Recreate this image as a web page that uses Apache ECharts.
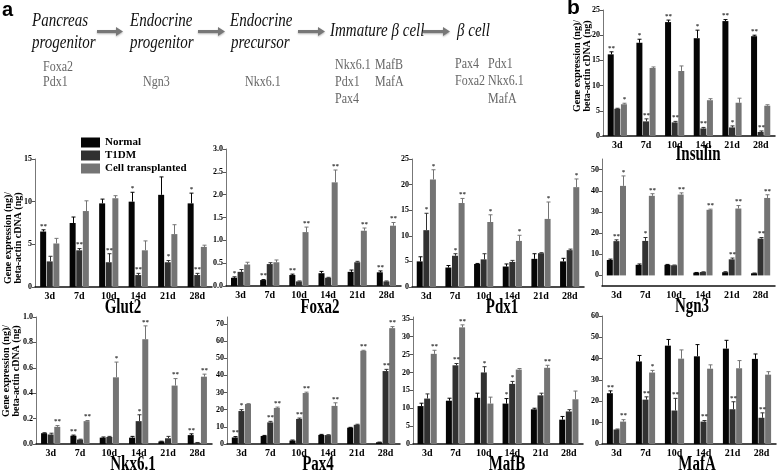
<!DOCTYPE html>
<html>
<head>
<meta charset="utf-8">
<script src="https://cdn.jsdelivr.net/npm/echarts@6/dist/echarts.min.js"></script>
<style>html,body{margin:0;padding:0;background:#fff}#main{width:777px;height:470px}</style>
</head>
<body>
<div id="main"></div>
<script>
var days = ['3d', '7d', '10d', '14d', '21d', '28d'];
var groups = ['Normal', 'T1DM', 'Cell transplanted'];
var colors = ['#050505', '#313131', '#747474'];

// rows: Normal, T1DM, Cell transplanted
var insulinMean = [[16.2, 18.5, 22.6, 19.4, 22.8, 19.8], [5.4, 2.9, 2.7, 1.5, 1.7, 0.8], [6.3, 13.5, 12.9, 7.1, 6.6, 6.0]];
var insulinErr = [[0.5, 0.7, 0.4, 1.6, 0.3, 0.2], [0.1, 0.5, 0.2, 0.2, 0.3, 0.2], [0.2, 0.2, 1.0, 0.3, 0.9, 0.2]];
var insulinSig = [['**', '*', '**', '*', '**', '**'], ['', '**', '**', '**', '*', '**'], ['*', '', '', '', '', '']];
var insulinTicks = [0, 5, 10, 15, 20, 25];

var glut2Mean = [[6.5, 7.5, 9.8, 10.0, 10.8, 9.8], [3.0, 4.3, 2.9, 1.4, 2.9, 1.4], [5.1, 8.9, 10.4, 4.3, 6.2, 4.7]];
var glut2Err = [[0.2, 0.7, 0.5, 1.1, 2.1, 1.2], [0.6, 0.2, 1.0, 0.2, 0.2, 0.2], [0.6, 1.2, 0.3, 1.1, 1.1, 0.2]];
var glut2Sig = [['**', '', '', '*', '', '*'], ['', '**', '**', '**', '*', '**'], ['', '', '', '', '', '']];
var glut2Ticks = [0, 5, 10, 15];

var foxa2Mean = [[0.18, 0.13, 0.24, 0.28, 0.31, 0.30], [0.31, 0.48, 0.10, 0.18, 0.52, 0.10], [0.47, 0.52, 1.18, 2.27, 1.21, 1.32]];
var foxa2Err = [[0.02, 0.01, 0.02, 0.04, 0.04, 0.03], [0.05, 0.03, 0.01, 0.01, 0.02, 0.01], [0.05, 0.05, 0.11, 0.27, 0.06, 0.07]];
var foxa2Sig = [['*', '**', '**', '', '', '**'], ['', '', '', '', '', ''], ['', '', '**', '**', '**', '**']];
var foxa2Ticks = [0, 0.5, 1.0, 1.5, 2.0, 2.5, 3.0];

var pdx1Mean = [[5.0, 3.8, 4.5, 4.0, 5.5, 5.0], [11.1, 6.1, 5.4, 4.9, 6.6, 7.2], [21.0, 16.4, 12.7, 9.0, 13.3, 19.5]];
var pdx1Err = [[0.9, 0.4, 0.1, 0.5, 1.0, 0.6], [3.3, 0.4, 1.1, 0.3, 0.1, 0.2], [1.9, 0.9, 1.4, 1.1, 3.3, 1.6]];
var pdx1Sig = [['', '', '', '', '', ''], ['*', '*', '', '', '', ''], ['*', '**', '*', '*', '*', '*']];
var pdx1Ticks = [0, 5, 10, 15, 20, 25];

var ngn3Mean = [[7.3, 5.0, 5.0, 1.3, 1.5, 1.0], [16.2, 16.3, 4.8, 1.6, 7.6, 17.4], [42.3, 37.6, 38.2, 31.0, 31.6, 36.6]];
var ngn3Err = [[0.4, 0.4, 0.2, 0.1, 0.2, 0.1], [0.6, 1.6, 0.1, 0.1, 0.6, 0.5], [4.7, 1.0, 0.8, 0.3, 1.4, 1.5]];
var ngn3Sig = [['', '', '', '', '', ''], ['**', '*', '', '', '**', '**'], ['*', '**', '**', '**', '**', '**']];
var ngn3Ticks = [0, 10, 20, 30, 40, 50];

var nkx61Mean = [[0.085, 0.065, 0.05, 0.05, 0.02, 0.07], [0.075, 0.035, 0.055, 0.18, 0.045, 0.01], [0.135, 0.18, 0.525, 0.825, 0.46, 0.53]];
var nkx61Err = [[0.003, 0.005, 0.005, 0.01, 0.002, 0.01], [0.01, 0.003, 0.005, 0.05, 0.015, 0.002], [0.01, 0.005, 0.12, 0.105, 0.055, 0.02]];
var nkx61Sig = [['', '**', '', '', '', '**'], ['', '', '', '*', '', ''], ['**', '**', '*', '**', '**', '**']];
var nkx61Ticks = [0, 0.2, 0.4, 0.6, 0.8, 1.0];

var pax4Mean = [[3.8, 4.7, 2.0, 5.3, 9.5, 1.0], [19.2, 12.6, 14.6, 5.2, 11.2, 42.5], [23.3, 21.0, 29.7, 22.2, 54.3, 67.5]];
var pax4Err = [[0.5, 0.3, 0.3, 0.3, 0.2, 0.1], [0.8, 0.6, 0.5, 0.2, 0.3, 1.0], [0.2, 0.5, 0.5, 1.8, 0.3, 0.9]];
var pax4Sig = [['**', '', '', '', '', ''], ['*', '**', '**', '', '', '**'], ['', '**', '**', '**', '**', '**']];
var pax4Ticks = [0, 10, 20, 30, 40, 50, 60, 70];

var mafbMean = [[10.6, 12.1, 12.9, 11.3, 9.7, 6.8], [12.7, 22.0, 20.0, 16.8, 13.6, 9.1], [25.2, 32.6, 11.3, 20.8, 21.3, 12.5]];
var mafbErr = [[0.8, 0.7, 1.3, 1.4, 0.3, 0.9], [1.3, 0.5, 1.6, 0.7, 0.6, 0.5], [1.0, 0.7, 1.8, 0.3, 0.7, 2.3]];
var mafbSig = [['', '', '', '*', '', ''], ['', '**', '*', '*', '', ''], ['**', '**', '', '', '**', '']];
var mafbTicks = [0, 5, 10, 15, 20, 25, 30, 35];

var mafaMean = [[23.8, 38.7, 46.1, 41.1, 44.7, 39.9], [6.8, 20.8, 15.7, 10.5, 16.3, 12.3], [10.5, 33.5, 40.0, 35.3, 35.5, 32.5]];
var mafaErr = [[1.1, 2.8, 2.9, 5.5, 3.9, 2.3], [0.2, 1.3, 5.7, 0.5, 3.5, 2.3], [0.9, 1.0, 4.1, 1.8, 3.6, 1.4]];
var mafaSig = [['**', '', '', '', '', ''], ['', '**', '**', '**', '**', '**'], ['**', '*', '', '', '', '']];
var mafaTicks = [0, 10, 20, 30, 40, 50, 60];

var panels = [
    { title: 'Insulin', mean: insulinMean, err: insulinErr, sig: insulinSig, ticks: insulinTicks, min: 0, max: 25, dec: 0, left: 603, top: 10, width: 172, height: 126, tx: 698, ty: 155 },
    { title: 'Glut2', mean: glut2Mean, err: glut2Err, sig: glut2Sig, ticks: glut2Ticks, min: 0, max: 15, dec: 0, left: 35, top: 159, width: 177, height: 128, tx: 123, ty: 308 },
    { title: 'Foxa2', mean: foxa2Mean, err: foxa2Err, sig: foxa2Sig, ticks: foxa2Ticks, min: 0, max: 3, dec: 1, left: 226, top: 149, width: 175, height: 137, tx: 320, ty: 308 },
    { title: 'Pdx1', mean: pdx1Mean, err: pdx1Err, sig: pdx1Sig, ticks: pdx1Ticks, min: 0, max: 25, dec: 0, left: 412, top: 159, width: 172, height: 128, tx: 502, ty: 308 },
    { title: 'Ngn3', mean: ngn3Mean, err: ngn3Err, sig: ngn3Sig, ticks: ngn3Ticks, min: -5, max: 55, dec: 0, left: 602, top: 159, width: 173, height: 127, tx: 692, ty: 307 },
    { title: 'Nkx6.1', mean: nkx61Mean, err: nkx61Err, sig: nkx61Sig, ticks: nkx61Ticks, min: 0, max: 1, dec: 1, left: 36, top: 317, width: 176, height: 127, tx: 133, ty: 465 },
    { title: 'Pax4', mean: pax4Mean, err: pax4Err, sig: pax4Sig, ticks: pax4Ticks, min: 0, max: 74, dec: 0, left: 227, top: 317, width: 173, height: 127, tx: 318, ty: 465 },
    { title: 'MafB', mean: mafbMean, err: mafbErr, sig: mafbSig, ticks: mafbTicks, min: 0, max: 35.5, dec: 0, left: 413, top: 317, width: 170, height: 127, tx: 507, ty: 465 },
    { title: 'MafA', mean: mafaMean, err: mafaErr, sig: mafaSig, ticks: mafaTicks, min: 0, max: 60, dec: 0, left: 602, top: 316, width: 174, height: 128, tx: 697, ty: 465 }
];

var serif = '"Liberation Serif", "Times New Roman", serif';
var grids = [], xAxes = [], yAxes = [], series = [];
var graphics = [];

function errSeries(p, gi, k) {
    return {
        type: 'custom',
        xAxisIndex: gi,
        yAxisIndex: gi,
        z: 5,
        clip: false,
        data: p.mean[k].map(function (v, i) { return [i, v, p.err[k][i]]; }),
        renderItem: function (params, api) {
            var i = api.value(0), v = api.value(1), e = api.value(2);
            var base = api.coord([i, v]);
            var x = Math.round(base[0] + (k - 1) * 6.6) + 0.5;
            var y1 = api.coord([i, v + e])[1];
            var s = p.sig[k][params.dataIndex];
            var kids = [
                { type: 'line', shape: { x1: x, y1: base[1], x2: x, y2: y1 }, style: { stroke: colors[k], lineWidth: 1 } },
                { type: 'line', shape: { x1: x - 2, y1: y1, x2: x + 2, y2: y1 }, style: { stroke: colors[k], lineWidth: 1 } }
            ];
            if (s) {
                kids.push({ type: 'text', style: { text: s, x: x, y: y1 - 0.5, align: 'center', verticalAlign: 'bottom', font: 'bold 7px ' + serif, fill: '#333' } });
            }
            return { type: 'group', children: kids };
        }
    };
}

panels.forEach(function (p, gi) {
    grids.push({ left: p.left, top: p.top, width: p.width, height: p.height, containLabel: false });
    xAxes.push({
        type: 'category', gridIndex: gi, data: days,
        axisLine: { onZero: false, lineStyle: { color: '#111', width: 1.5 } },
        axisTick: { show: false },
        axisLabel: { color: '#000', fontFamily: serif, fontWeight: 'bold', fontSize: 10, margin: 4 }
    });
    yAxes.push({
        type: 'value', gridIndex: gi, min: p.min, max: p.max,
        splitLine: { show: false },
        axisLine: { show: true, lineStyle: { color: '#777', width: 1 } },
        axisTick: { show: true, length: 3, customValues: p.ticks, lineStyle: { color: '#555' } },
        axisLabel: {
            customValues: p.ticks, color: '#000', fontFamily: serif, fontWeight: 'bold', fontSize: 8, margin: 3,
            formatter: function (v) { return v.toFixed(p.dec); }
        }
    });
    for (var k = 0; k < 3; k++) {
        series.push({
            type: 'bar', name: groups[k], xAxisIndex: gi, yAxisIndex: gi,
            data: p.mean[k], barWidth: 6, barGap: '10%',
            itemStyle: { color: colors[k] }
        });
        series.push(errSeries(p, gi, k));
    }
    graphics.push({
        type: 'text', x: p.tx, y: p.ty, scaleY: 1.35,
        style: { text: p.title, align: 'center', verticalAlign: 'middle', font: 'bold 15px ' + serif, fill: '#000' }
    });
});

// y axis titles
var yTitle = 'Gene expression (ng)/\nbeta-actin cDNA (ng)';
[[582.5, 66], [13.5, 238], [11.5, 371]].forEach(function (c) {
    graphics.push({
        type: 'text', x: c[0], y: c[1], rotation: Math.PI / 2,
        style: { text: yTitle, align: 'center', verticalAlign: 'middle', font: 'bold 10px ' + serif, lineHeight: 10, fill: '#000' }
    });
});

// panel letters
graphics.push({ type: 'text', x: 2, y: 0, style: { text: 'a', font: 'bold 20px "Liberation Sans", Arial, sans-serif', fill: '#000', verticalAlign: 'top' } });
graphics.push({ type: 'text', x: 567, y: -2, style: { text: 'b', font: 'bold 21px "Liberation Sans", Arial, sans-serif', fill: '#000', verticalAlign: 'top' } });

// pathway diagram
var stages = [
    ['Pancreas', 32, 21], ['progenitor', 32, 43],
    ['Endocrine', 130, 21], ['progenitor', 130, 43],
    ['Endocrine', 230, 21], ['precursor', 231, 43],
    ['Immature \u03b2 cell', 330, 31], ['\u03b2 cell', 457, 31]
];
stages.forEach(function (s) {
    graphics.push({
        type: 'text', x: s[1], y: s[2], scaleY: 1.3,
        style: { text: s[0], align: 'left', verticalAlign: 'middle', font: 'italic 15px ' + serif, fill: '#111' }
    });
});
var markers = [
    ['Foxa2', 43, 67], ['Pdx1', 43, 82], ['Ngn3', 143, 82], ['Nkx6.1', 245, 82],
    ['Nkx6.1', 335, 65], ['MafB', 375, 65], ['Pdx1', 335, 82], ['MafA', 375, 82], ['Pax4', 335, 99],
    ['Pax4', 455, 64], ['Pdx1', 488, 64], ['Foxa2', 455, 81], ['Nkx6.1', 488, 81], ['MafA', 488, 99]
];
markers.forEach(function (s) {
    graphics.push({
        type: 'text', x: s[1], y: s[2], scaleY: 1.2,
        style: { text: s[0], align: 'left', verticalAlign: 'middle', font: '12px ' + serif, fill: '#666' }
    });
});
[[97, 123], [198, 225], [298, 325], [423, 450]].forEach(function (a) {
    var y = 31.5, x0 = a[0], x1 = a[1];
    graphics.push({
        type: 'polygon',
        shape: { points: [[x0, y - 1.6], [x1 - 7, y - 1.6], [x1 - 7, y - 4.5], [x1, y], [x1 - 7, y + 4.5], [x1 - 7, y + 1.6], [x0, y + 1.6]] },
        style: { fill: '#777', shadowBlur: 2, shadowColor: 'rgba(0,0,0,0.3)', shadowOffsetY: 1 }
    });
});

var myChart = echarts.init(document.getElementById('main'));
var option = {
    backgroundColor: '#fff',
    animation: false,
    grid: grids,
    xAxis: xAxes,
    yAxis: yAxes,
    legend: {
        data: groups, orient: 'vertical', left: 76, top: 132,
        itemWidth: 19, itemHeight: 10, itemGap: 2, icon: 'rect', selectedMode: false,
        textStyle: { fontFamily: serif, fontWeight: 'bold', fontSize: 11, color: '#000' }
    },
    graphic: { elements: graphics },
    series: series
};
myChart.setOption(option);
</script>
</body>
</html>
